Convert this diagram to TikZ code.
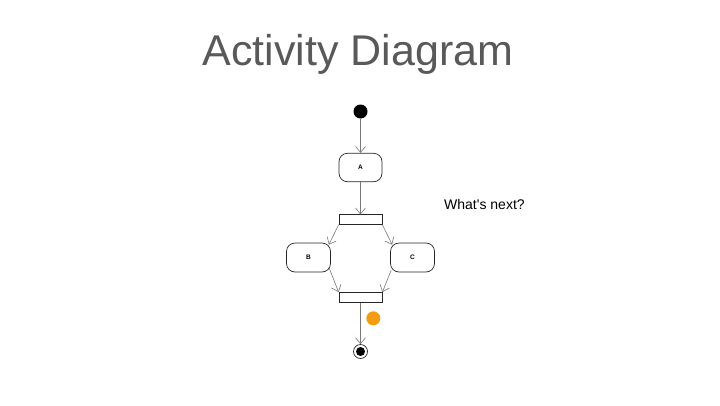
\documentclass[tikz,border=0pt]{standalone}
\usepackage{fontspec}
\setmainfont{Liberation Sans}
\usetikzlibrary{arrows.meta}
\definecolor{titlegray}{RGB}{89,89,89}
\definecolor{dotorange}{RGB}{243,156,18}
\definecolor{linegray}{RGB}{120,120,120}
\begin{document}
\begin{tikzpicture}[x=1pt,y=1pt,
  actbox/.style={draw=black!85,line width=0.7pt,rounded corners=8.5pt,fill=white,
    minimum width=43pt,minimum height=28.5pt,inner sep=0pt,
    font=\fontsize{6.5}{7}\selectfont\bfseries},
  barbox/.style={draw=black!85,line width=0.7pt,fill=white,minimum width=43pt,
    minimum height=9.5pt,inner sep=0pt},
  flow/.style={draw=linegray,line width=0.6pt,
    -{Straight Barb[length=6pt,width=10pt,line width=0.6pt]}}]
\useasboundingbox (0,0) rectangle (720,-405);
\node[font=\fontsize{43}{50}\selectfont,text=titlegray,anchor=base] (title) at (358,-65) {Activity Diagram};
\node[font=\fontsize{14}{16}\selectfont,anchor=base west,inner sep=0pt] (note) at (444,-209) {What\textquotesingle s next?};
\node[circle,fill=black,minimum size=14pt,inner sep=0pt] (start) at (360.5,-111.5) {};
\node[actbox] (A) at (360.5,-167.5) {A};
\node[barbox] (fork) at (360.5,-219.5) {};
\node[actbox,minimum width=44pt,minimum height=29pt] (B) at (308.5,-257.5) {B};
\node[actbox,minimum width=44pt,minimum height=29pt] (C) at (412.5,-257.5) {C};
\node[barbox,minimum height=10pt] (join) at (360.5,-297.5) {};
\node[circle,draw=black!85,line width=0.7pt,fill=white,minimum size=14pt,inner sep=0pt] (end) at (360.5,-351.5) {};
\node[circle,fill=black,minimum size=9pt,inner sep=0pt] (endin) at (end.center) {};
\node[circle,fill=dotorange,minimum size=14pt,inner sep=0pt] (dot) at (373.3,-318.3) {};
\draw[flow] (start) -- (A);
\draw[flow] (A) -- (fork);
\draw[flow] (fork.south west) -- ([shift={(-2,-2)}]B.north east);
\draw[flow] (fork.south east) -- ([shift={(2,-2)}]C.north west);
\draw[flow] ([shift={(-2,5)}]B.south east) -- (join.north west);
\draw[flow] ([shift={(1,2)}]C.south west) -- (join.north east);
\draw[flow] (join) -- (end);
\end{tikzpicture}
\end{document}
